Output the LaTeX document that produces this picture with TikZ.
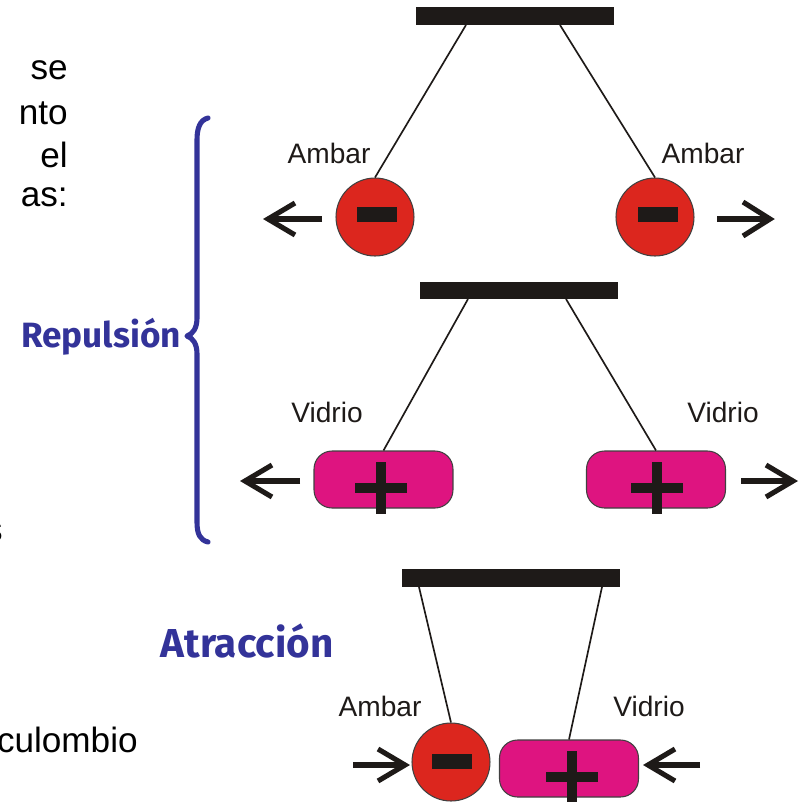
\documentclass[tikz,border=0pt]{standalone}
\usepackage{fontspec}
\setmainfont{Liberation Sans}
\newfontfamily\comicfont{Fira Sans}
\definecolor{barc}{RGB}{30,26,24}
\definecolor{redc}{RGB}{220,38,30}
\definecolor{pinkc}{RGB}{222,20,128}
\definecolor{bluec}{RGB}{51,51,153}
\begin{document}
\begin{tikzpicture}[x=0.02cm,y=-0.02cm,
  barbox/.style={fill=barc,draw=none,inner sep=0,minimum height=0.36cm},
  ball/.style={circle,fill=redc,draw=black!75,line width=0.6pt,inner sep=0,minimum size=1.56cm},
  pill/.style={rectangle,rounded corners=0.36cm,fill=pinkc,draw=black!75,line width=0.6pt,inner sep=0,minimum width=2.78cm,minimum height=1.14cm},
  minusbox/.style={fill=barc,inner sep=0,minimum width=0.8cm,minimum height=0.3cm},
  hbarbox/.style={fill=barc,inner sep=0,minimum width=1.06cm,minimum height=0.2cm},
  vbarbox/.style={fill=barc,inner sep=0,minimum width=0.2cm,minimum height=1.04cm},
  thread/.style={line width=0.95pt,draw=barc},
  arr/.style={line width=2.9pt,draw=barc,line join=miter,line cap=butt},
  lbl/.style={font=\fontsize{16}{19}\selectfont,text=barc,inner sep=0},
  side/.style={font=\fontsize{20}{24}\selectfont,text=black,inner sep=0,anchor=east},
  title/.style={font=\comicfont\bfseries\fontsize{20}{24}\selectfont,text=bluec,inner sep=0}
]
\useasboundingbox (0,0) rectangle (800,802);

% left cut-off text
\node[side] (t1) at (68,70) {se};
\node[side] (t2) at (68,113) {nto};
\node[side] (t3) at (68,155) {el};
\node[side] (t4) at (68,197) {as:};
\node[side] (t5) at (3,532) {s};
\node[side] (t6) at (138,740) {culombio};

% titles and brace
\node[title] (rep) at (101,337) {Repulsión};
\node[title,font=\comicfont\bfseries\fontsize{23}{27}\selectfont] (atr) at (247,641) {Atracción};
\draw[bluec,line width=2.9pt,line cap=round,line join=round]
  (208,118) .. controls (200,120) and (197,128) .. (197,140) -- (197,318)
  .. controls (197,328) and (193,334) .. (187,336)
  .. controls (193,338) and (197,344) .. (197,354) -- (197,522)
  .. controls (197,534) and (200,540) .. (208,542);

% ---------- group 1 : Ambar / Ambar
\node[barbox,minimum width=3.96cm] (bar1) at (515,16) {};
\node[ball] (b1) at (375,217) {};
\node[ball] (b2) at (655,217) {};
\node[minusbox] (m1) at (377,214.5) {};
\node[minusbox] (m2) at (658,214.5) {};
\coordinate (s1a) at (466,25); \coordinate (s1b) at (560,25);
\draw[thread] (s1a) -- (b1.north);
\draw[thread] (s1b) -- (b2.north);
\node[lbl] (l1) at (329,153) {Ambar};
\node[lbl] (l2) at (703,153) {Ambar};
\coordinate (a1t) at (268,219); \coordinate (a1s) at (322,219);
\draw[arr] (a1s) -- (a1t);
\draw[arr] (295,203) -- (a1t) -- (295,235);
\coordinate (a2t) at (770,219); \coordinate (a2s) at (717,219);
\draw[arr] (a2s) -- (a2t);
\draw[arr] (743,202) -- (a2t) -- (743,236);

% ---------- group 2 : Vidrio / Vidrio
\node[barbox,minimum width=3.96cm,minimum height=0.34cm] (bar2) at (519,290.5) {};
\node[pill] (p1) at (383.5,479.5) {};
\node[pill] (p2) at (656,479.5) {};
\node[hbarbox] (h1) at (381,488) {};
\node[vbarbox] (v1) at (381,488) {};
\node[hbarbox] (h2) at (657,488) {};
\node[vbarbox] (v2) at (657,488) {};
\coordinate (s2a) at (468,299); \coordinate (s2b) at (566,299);
\draw[thread] (s2a) -- (p1.north);
\draw[thread] (s2b) -- (p2.north);
\node[lbl] (l3) at (327,412) {Vidrio};
\node[lbl] (l4) at (723,412) {Vidrio};
\coordinate (a3t) at (245,481); \coordinate (a3s) at (300,481);
\draw[arr] (a3s) -- (a3t);
\draw[arr] (272,465) -- (a3t) -- (272,497);
\coordinate (a4t) at (793,481); \coordinate (a4s) at (741,481);
\draw[arr] (a4s) -- (a4t);
\draw[arr] (766,465) -- (a4t) -- (766,497);

% ---------- group 3 : Ambar / Vidrio
\node[barbox,minimum width=4.36cm] (bar3) at (511,578) {};
\node[ball] (b3) at (451,762) {};
\node[minusbox] (m3) at (452,761) {};
\node[pill] (p3) at (569,768.5) {};
\node[hbarbox] (h3) at (572,777) {};
\node[vbarbox] (v3) at (572,777) {};
\coordinate (s3a) at (419,587); \coordinate (s3b) at (602,587);
\draw[thread] (s3a) -- (b3.north);
\draw[thread] (s3b) -- (p3.north);
\node[lbl] (l5) at (380,706) {Ambar};
\node[lbl] (l6) at (649,706) {Vidrio};
\coordinate (a5t) at (405,765); \coordinate (a5s) at (353,765);
\draw[arr] (a5s) -- (a5t);
\draw[arr] (378,749) -- (a5t) -- (378,781);
\coordinate (a6t) at (648,765); \coordinate (a6s) at (700,765);
\draw[arr] (a6s) -- (a6t);
\draw[arr] (675,749) -- (a6t) -- (675,781);
\end{tikzpicture}
\end{document}
